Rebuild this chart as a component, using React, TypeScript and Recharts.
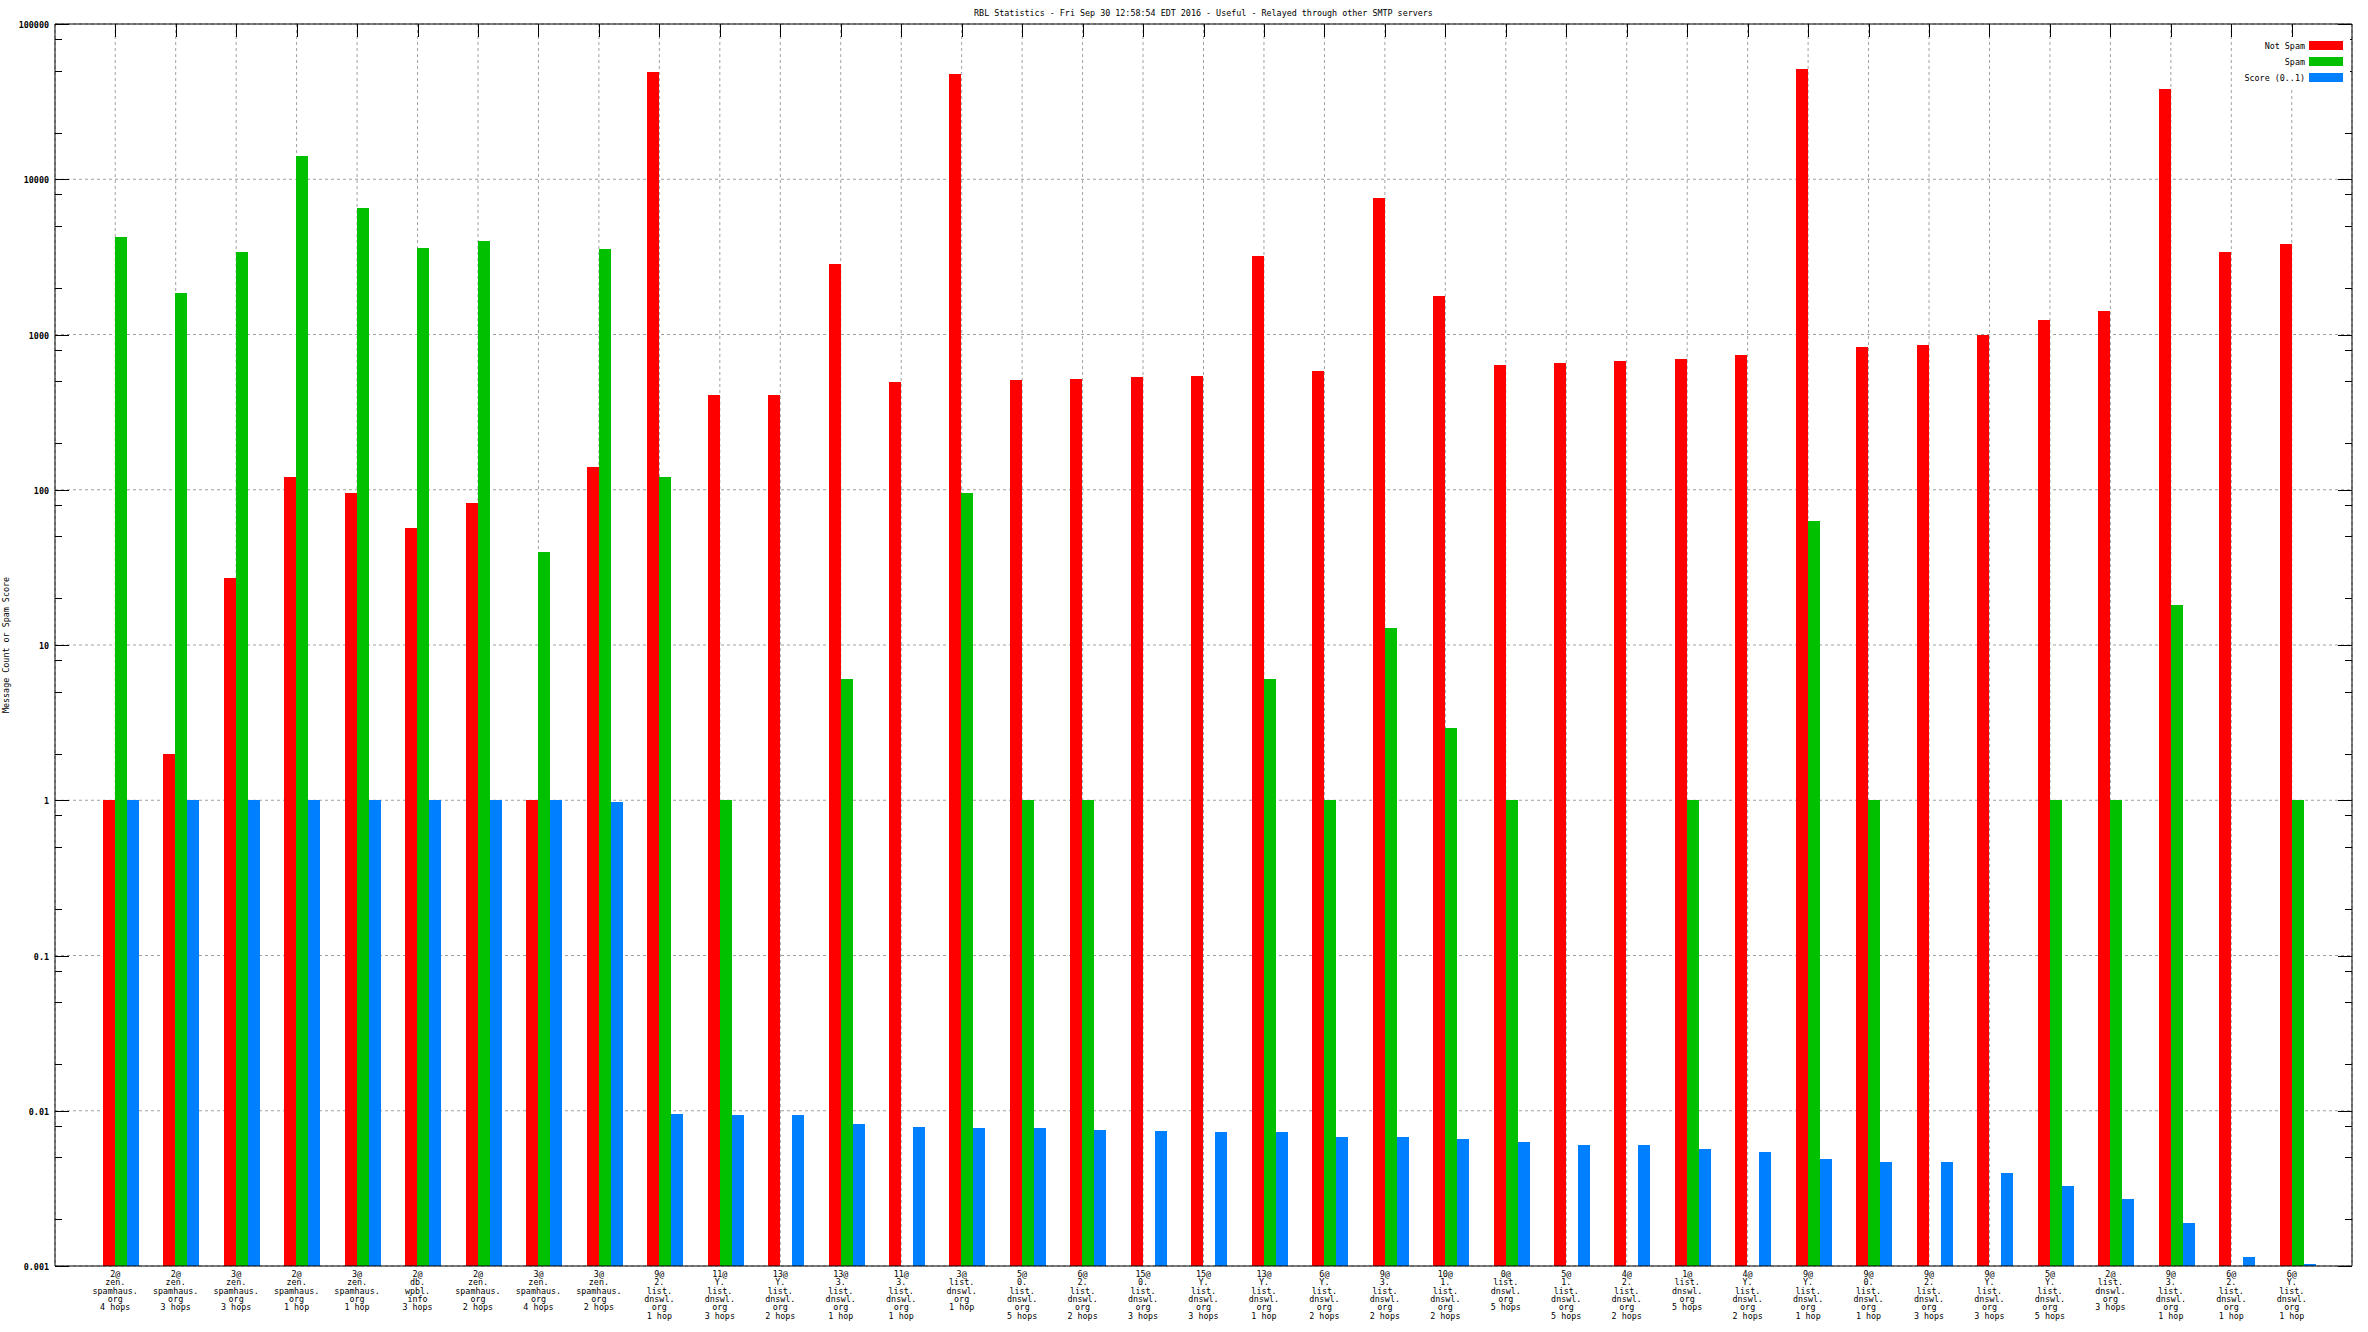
import React from 'react';
import { BarChart, Bar, XAxis, YAxis, CartesianGrid } from 'recharts';

// x categories, one line per "|"
const categories = [
  '2@|zen.|spamhaus.|org|4 hops',
  '2@|zen.|spamhaus.|org|3 hops',
  '3@|zen.|spamhaus.|org|3 hops',
  '2@|zen.|spamhaus.|org|1 hop',
  '3@|zen.|spamhaus.|org|1 hop',
  '2@|db.|wpbl.|info|3 hops',
  '2@|zen.|spamhaus.|org|2 hops',
  '3@|zen.|spamhaus.|org|4 hops',
  '3@|zen.|spamhaus.|org|2 hops',
  '9@|2.|list.|dnswl.|org|1 hop',
  '11@|Y.|list.|dnswl.|org|3 hops',
  '13@|Y.|list.|dnswl.|org|2 hops',
  '13@|3.|list.|dnswl.|org|1 hop',
  '11@|3.|list.|dnswl.|org|1 hop',
  '3@|list.|dnswl.|org|1 hop',
  '5@|0.|list.|dnswl.|org|5 hops',
  '6@|2.|list.|dnswl.|org|2 hops',
  '15@|0.|list.|dnswl.|org|3 hops',
  '15@|Y.|list.|dnswl.|org|3 hops',
  '13@|Y.|list.|dnswl.|org|1 hop',
  '6@|Y.|list.|dnswl.|org|2 hops',
  '9@|3.|list.|dnswl.|org|2 hops',
  '10@|1.|list.|dnswl.|org|2 hops',
  '0@|list.|dnswl.|org|5 hops',
  '5@|1.|list.|dnswl.|org|5 hops',
  '4@|2.|list.|dnswl.|org|2 hops',
  '1@|list.|dnswl.|org|5 hops',
  '4@|Y.|list.|dnswl.|org|2 hops',
  '9@|Y.|list.|dnswl.|org|1 hop',
  '9@|0.|list.|dnswl.|org|1 hop',
  '9@|2.|list.|dnswl.|org|3 hops',
  '9@|Y.|list.|dnswl.|org|3 hops',
  '5@|Y.|list.|dnswl.|org|5 hops',
  '2@|list.|dnswl.|org|3 hops',
  '9@|3.|list.|dnswl.|org|1 hop',
  '6@|2.|list.|dnswl.|org|1 hop',
  '6@|Y.|list.|dnswl.|org|1 hop',
];

const notSpam = [
  1, 2, 27, 120, 95, 57, 82, 1, 140, 49000,
  405, 410, 2850, 495, 47500, 510, 520, 530, 540, 3200,
  580, 7600, 1780, 640, 660, 680, 700, 740, 51000, 830,
  850, 990, 1240, 1420, 38000, 3400, 3800,
];

const spam = [
  4250, 1850, 3400, 14200, 6500, 3600, 4000, 40, 3550, 120,
  1, null, 6, null, 95, 1, 1, null, null, 6,
  1, 12.8, 2.9, 1, null, null, 1, null, 63, 1,
  null, null, 1, 1, 18, null, 1,
];

const score = [
  1, 1, 1, 1, 1, 1, 1, 1, 0.98, 0.0095,
  0.0094, 0.0094, 0.0082, 0.0079, 0.0077, 0.0077, 0.0075, 0.0074, 0.0073, 0.0073,
  0.0068, 0.0068, 0.0066, 0.0063, 0.006, 0.006, 0.0057, 0.0054, 0.0049, 0.0047,
  0.0047, 0.004, 0.0033, 0.0027, 0.0019, 0.00115, 0.00103,
];

const seriesNames = ['Not Spam', 'Spam', 'Score (0..1)'];
const seriesColors = ['#ff0000', '#00c000', '#0080ff'];

const majorTicks = [0.001, 0.01, 0.1, 1, 10, 100, 1000, 10000, 100000];
const majorLabels = ['0.001', '0.01', '0.1', '1', '10', '100', '1000', '10000', '100000'];
const yTicks = majorTicks.flatMap((m, i) =>
  i === majorTicks.length - 1 ? [m] : [m, m * 2, m * 5, m * 8]
).concat([80000]).sort((a, b) => a - b);

const data = categories.map((name, i) => ({
  name,
  notSpam: notSpam[i],
  spam: spam[i],
  score: score[i],
}));

const FONT = '"DejaVu Sans Mono", monospace';

const LeftTick = (p: any) => {
  const i = majorTicks.indexOf(p.payload.value);
  const y = Math.round(p.y) + 0.5;
  return (
    <g>
      <line x1={p.x} x2={p.x + (i >= 0 ? 14 : 7)} y1={y} y2={y} stroke="#000" shapeRendering="crispEdges" />
      {i >= 0 && (
        <text x={p.x - 6} y={y} dy={3} textAnchor="end" fontFamily={FONT} fontSize={8.4} fontWeight="bold" fill="#000">
          {majorLabels[i]}
        </text>
      )}
    </g>
  );
};

const RightTick = (p: any) => {
  const major = majorTicks.indexOf(p.payload.value) >= 0;
  const y = Math.round(p.y) + 0.5;
  return <line x1={p.x} x2={p.x - (major ? 14 : 7)} y1={y} y2={y} stroke="#000" shapeRendering="crispEdges" />;
};

const TopTick = (p: any) => {
  const x = Math.round(p.x) + 0.5;
  return <line x1={x} x2={x} y1={p.y} y2={p.y + 13} stroke="#000" shapeRendering="crispEdges" />;
};

const BottomTick = (p: any) => {
  const lines = String(p.payload.value).split('|');
  return (
    <text x={p.x} y={p.y + 11} textAnchor="middle" fontFamily={FONT} fontSize={8.4} fill="#000">
      {lines.map((l, k) => (
        <tspan key={k} x={p.x} dy={k === 0 ? 0 : 8.33}>{l}</tspan>
      ))}
    </text>
  );
};

// bars sit a little right of the tick, as in the original
const ShiftedBar = (p: any) => {
  if (!isFinite(p.y) || !isFinite(p.height) || p.height <= 0) return null;
  return <rect x={p.x + 6} y={p.y} width={p.width} height={p.height} fill={p.fill} shapeRendering="crispEdges" />;
};

export default function App() {
  return (
    <div style={{ position: 'absolute', left: 0, top: 0, width: 2368, height: 1332, background: '#fff' }}>
      <BarChart
        width={2368}
        height={1332}
        data={data}
        margin={{ top: 0, right: 0, bottom: 0, left: 0 }}
        barGap={0}
        barSize={12}
      >
        <CartesianGrid
          xAxisId="bottom"
          yAxisId="left"
          stroke="#a0a0a0"
          strokeDasharray="3 3"
          horizontalValues={majorTicks}
        />
        <XAxis
          xAxisId="bottom"
          dataKey="name"
          height={66}
          padding={{ left: 30, right: 30 }}
          interval={0}
          tickSize={0}
          tickMargin={0}
          tickLine={false}
          axisLine={{ stroke: '#000' }}
          tick={BottomTick}
        />
        <XAxis
          xAxisId="top"
          orientation="top"
          dataKey="name"
          height={24}
          padding={{ left: 30, right: 30 }}
          interval={0}
          tickSize={0}
          tickMargin={0}
          tickLine={false}
          axisLine={{ stroke: '#000' }}
          tick={TopTick}
        />
        <YAxis
          yAxisId="left"
          type="number"
          scale="log"
          domain={[0.001, 100000]}
          allowDataOverflow
          ticks={yTicks}
          interval={0}
          width={55}
          tickSize={0}
          tickMargin={0}
          tickLine={false}
          axisLine={{ stroke: '#000' }}
          tick={LeftTick}
        />
        <YAxis
          yAxisId="right"
          orientation="right"
          type="number"
          scale="log"
          domain={[0.001, 100000]}
          allowDataOverflow
          ticks={yTicks}
          interval={0}
          width={16}
          tickSize={0}
          tickMargin={0}
          tickLine={false}
          axisLine={{ stroke: '#000' }}
          tick={RightTick}
        />
        <Bar xAxisId="bottom" yAxisId="left" dataKey="notSpam" name={seriesNames[0]} fill={seriesColors[0]} shape={ShiftedBar} isAnimationActive={false} />
        <Bar xAxisId="bottom" yAxisId="left" dataKey="spam" name={seriesNames[1]} fill={seriesColors[1]} shape={ShiftedBar} isAnimationActive={false} />
        <Bar xAxisId="bottom" yAxisId="left" dataKey="score" name={seriesNames[2]} fill={seriesColors[2]} shape={ShiftedBar} isAnimationActive={false} />
      </BarChart>

      <div
        style={{
          position: 'absolute', left: 55, width: 2297, top: 8, textAlign: 'center',
          fontFamily: FONT, fontSize: 8.4, color: '#000', whiteSpace: 'pre',
        }}
      >
        RBL Statistics - Fri Sep 30 12:58:54 EDT 2016 - Useful - Relayed through other SMTP servers
      </div>

      <div
        style={{
          position: 'absolute', left: 6, top: 645, transform: 'translate(-50%, -50%) rotate(-90deg)',
          fontFamily: FONT, fontSize: 8.4, color: '#000', whiteSpace: 'pre',
        }}
      >
        Message Count or Spam Score
      </div>

      <div style={{ position: 'absolute', left: 2238, top: 37, width: 112, height: 52, background: '#fff' }}>
        {seriesNames.map((n, i) => (
          <div key={n} style={{ position: 'absolute', right: 0, top: 4 + i * 16, height: 9, display: 'flex', alignItems: 'center' }}>
            <span style={{ fontFamily: FONT, fontSize: 8.4, color: '#000', marginRight: 4, whiteSpace: 'pre' }}>{n}</span>
            <span style={{ display: 'inline-block', width: 34, height: 9, background: seriesColors[i], marginRight: 7 }} />
          </div>
        ))}
      </div>
    </div>
  );
}
